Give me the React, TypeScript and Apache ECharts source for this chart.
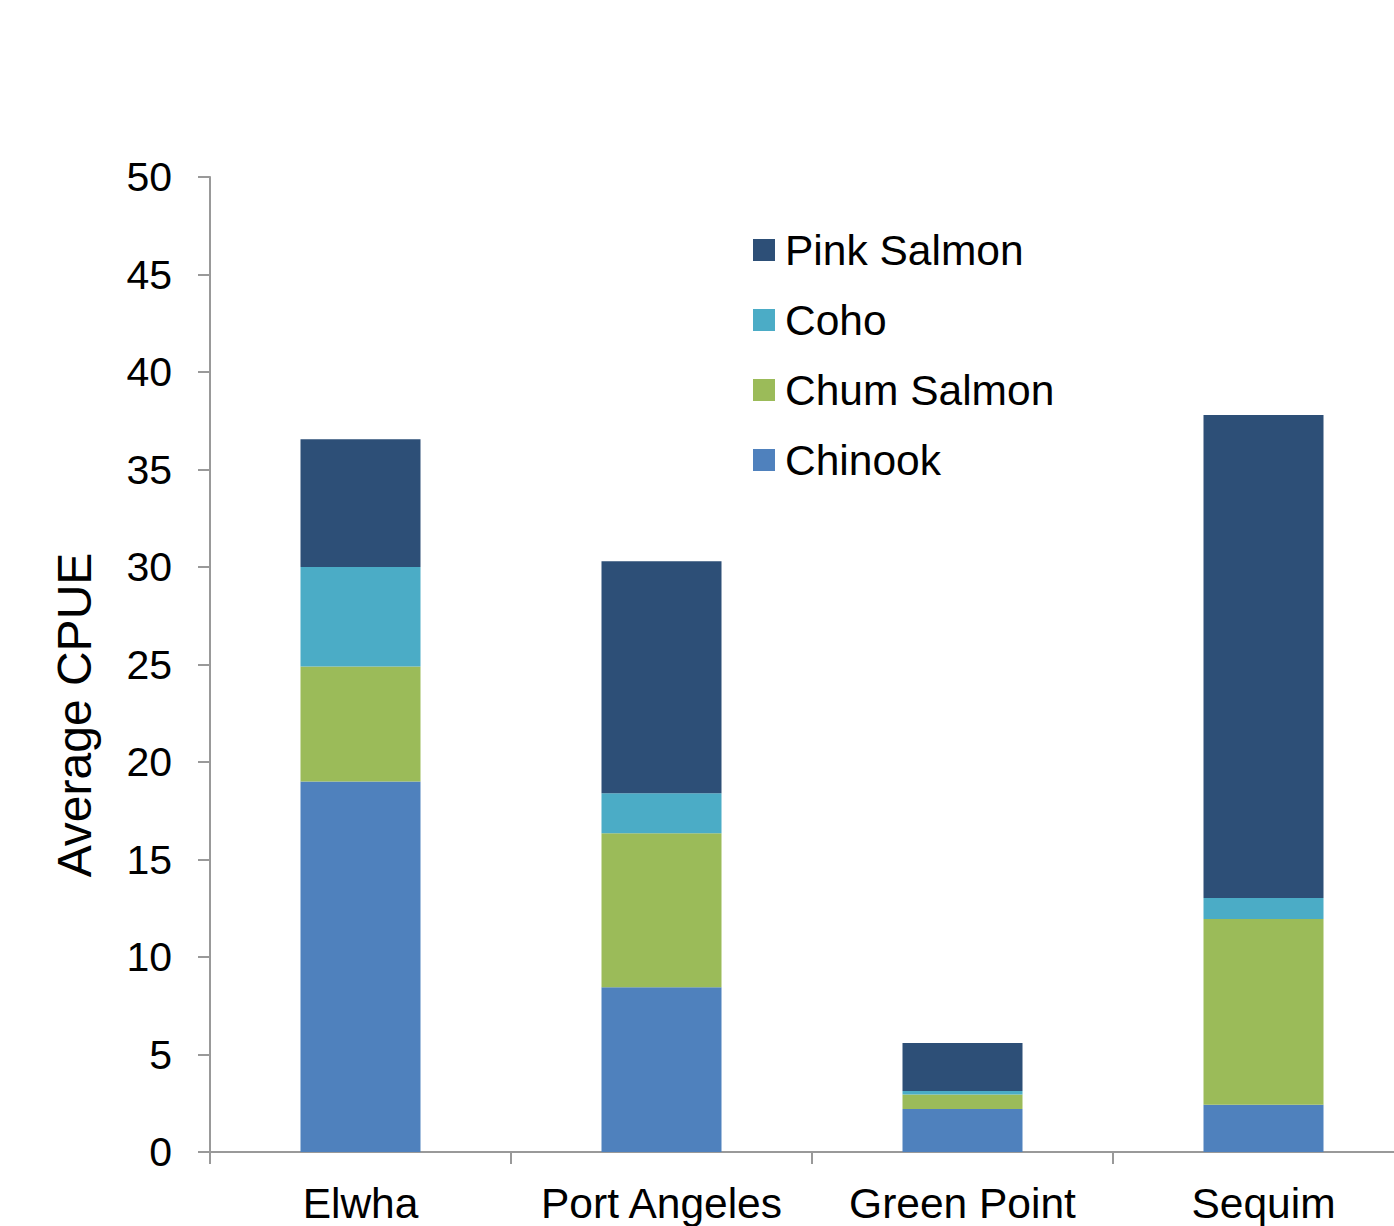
import React, { useEffect, useRef } from "react";
import * as echarts from "echarts";

// Sampling sites along the strait
const sites = ["Elwha", "Port Angeles", "Green Point", "Sequim"];

// Average catch per unit effort, by species and site
const chinook = [19.0, 8.45, 2.2, 2.42];
const chum = [5.9, 7.9, 0.75, 9.53];
const coho = [5.1, 2.05, 0.18, 1.08];
const pink = [6.55, 11.9, 2.46, 24.76];

const legendOrder = ["Pink Salmon", "Coho", "Chum Salmon", "Chinook"];

const FONT = "Liberation Sans, Arial, sans-serif";

export default function App() {
  const ref = useRef<HTMLDivElement>(null);

  useEffect(() => {
    if (!ref.current) return;
    const chart = echarts.init(ref.current, undefined, { renderer: "svg" });

    const mk = (name: string, data: number[], color: string) => ({
      name,
      type: "bar",
      stack: "cpue",
      data,
      barWidth: 120,
      itemStyle: { color },
    });

    chart.setOption({
      animation: false,
      backgroundColor: "#ffffff",
      textStyle: { fontFamily: FONT },
      grid: { left: 210, top: 177, bottom: 74, right: 0, containLabel: false },
      legend: {
        orient: "vertical",
        left: 753,
        top: 226,
        padding: 0,
        itemWidth: 22,
        itemHeight: 22,
        itemGap: 22,
        data: legendOrder,
        icon: "rect",
        textStyle: {
          fontSize: 42.5,
          fontFamily: FONT,
          color: "#000",
          lineHeight: 48,
          padding: [0, 0, 0, 5],
        },
      },
      graphic: [
        {
          type: "text",
          x: 74,
          y: 715,
          rotation: Math.PI / 2,
          style: {
            text: "Average CPUE",
            font: `48px ${FONT}`,
            fill: "#000",
            textAlign: "center",
            textVerticalAlign: "middle",
          },
        },
      ],
      xAxis: {
        type: "category",
        data: sites,
        axisLine: { lineStyle: { color: "#999", width: 2 } },
        axisTick: { show: true, interval: 0, length: 12, lineStyle: { color: "#999", width: 2 } },
        axisLabel: { interval: 0, fontSize: 42.5, color: "#000", margin: 30, fontFamily: FONT },
      },
      yAxis: {
        type: "value",
        min: 0,
        max: 50,
        interval: 5,
        splitLine: { show: false },
        axisLine: { show: true, lineStyle: { color: "#999", width: 2 } },
        axisTick: { show: true, length: 12, lineStyle: { color: "#999", width: 2 } },
        axisLabel: { fontSize: 41, color: "#000", margin: 38, fontFamily: FONT },
      },
      series: [
        mk("Chinook", chinook, "#4F81BD"),
        mk("Chum Salmon", chum, "#9BBB59"),
        mk("Coho", coho, "#4BACC6"),
        mk("Pink Salmon", pink, "#2D4F77"),
      ],
    });

    return () => chart.dispose();
  }, []);

  // The plot runs 20px past the right edge, so the last category is clipped.
  return (
    <div
      style={{
        position: "fixed",
        left: 0,
        top: 0,
        width: 1394,
        height: 1226,
        overflow: "hidden",
        background: "#fff",
      }}
    >
      <div ref={ref} style={{ width: 1414, height: 1226 }} />
    </div>
  );
}
